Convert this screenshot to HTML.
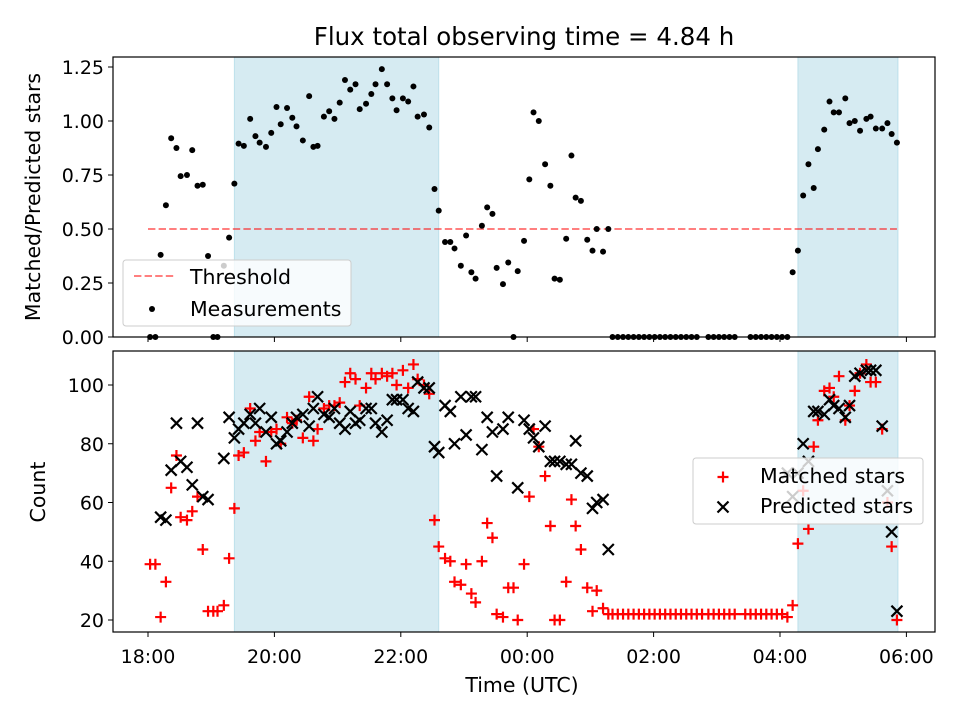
<!DOCTYPE html>
<html><head><meta charset="utf-8"><style>
body{margin:0;background:#fff;}
svg{font-family:"DejaVu Sans","Liberation Sans",sans-serif;}
</style></head><body>
<svg id="chart" width="960" height="720" xmlns="http://www.w3.org/2000/svg"></svg>
<script>
// ---- data ----
const spanStarts = [82, 617];   // minutes since 18:00
const spanEnds = [276, 712];
const threshold = 0.5;
const thresholdRange = [0, 711];
const ratioTimes = [2,7,12,17,22,27,31,37,42,47,52,57,62,66,72,77,82,86,91,97,102,106,112,117,122,126,132,137,141,147,153,157,161,167,172,177,182,187,192,197,201,207,212,216,222,227,232,236,242,247,252,256,262,267,272,276,282,287,291,297,302,307,311,317,322,327,331,337,342,347,351,357,362,366,371,377,382,386,391,397,402,406,411,417,422,426,432,437,441,446,451,456,461,466,471,476,481,486,491,496,501,506,511,516,521,532,537,542,547,552,557,572,577,582,587,592,597,602,607,612,617,622,627,632,636,642,647,651,656,662,666,671,676,682,686,691,697,702,706,711];
const ratioValues = [0,0,.38,.61,.92,.875,.745,.75,.865,.70,.705,.375,0,0,.33,.46,.71,.895,.885,1.01,.93,.90,.88,.945,1.065,.985,1.06,1.015,.975,.91,1.115,.88,.885,1.02,1.045,1.01,1.085,1.19,1.145,1.17,1.055,1.08,1.125,1.17,1.24,1.17,1.105,1.05,1.105,1.09,1.16,1.02,1.03,.97,.685,.585,.44,.44,.41,.33,.47,.30,.27,.515,.60,.57,.32,.245,.345,0,.305,.445,.73,1.04,1.00,.80,.70,.27,.265,.455,.84,.645,.63,.45,.40,.50,.395,.50,0,0,0,0,0,0,0,0,0,0,0,0,0,0,0,0,0,0,0,0,0,0,0,0,0,0,0,0,0,0,0,.30,.40,.655,.80,.69,.87,.96,1.09,1.04,1.04,1.105,.99,1.0,.955,1.01,1.02,.965,.965,.99,.94,.90,.87];
const matchedTimes = [2,7,12,17,22,27,31,37,42,47,52,57,62,66,72,77,82,86,91,97,102,106,112,117,122,126,132,137,141,147,153,157,161,167,172,177,182,187,192,197,201,207,212,216,222,227,232,236,242,247,252,256,262,267,272,276,282,287,291,297,302,307,311,317,322,327,331,337,342,347,351,357,362,366,371,377,382,386,391,397,402,406,411,417,422,426,432,437,441,446,451,456,461,466,471,476,481,486,491,496,501,506,511,516,521,526,532,537,542,547,552,557,567,572,577,582,587,592,597,602,607,612,617,622,627,632,636,642,647,651,656,662,666,671,676,682,686,691,697,702,706,711];
const matchedValues = [39,39,21,33,65,76,55,54,57,62,44,23,23,23,25,41,58,76,77,92,81,84,74,84,85,80,89,87,88,82,96,81,85,92,93,93,94,101,104,102,93,99,104,102,104,103,104,100,105,99,107,102,100,97,54,45,41,40,33,32,39,29,26,40,53,48,22,21,31,31,20,39,62,85,79,69,52,20,20,33,61,52,44,31,23,30,24,22,22,22,22,22,22,22,22,22,22,22,22,22,22,22,22,22,22,22,22,22,22,22,22,22,22,22,22,22,22,22,22,22,21,25,46,64,51,79,88,98,99,96,103,88,93,98,104,107,101,101,85,60,45,20];
const predictedTimes = [12,17,22,27,31,37,42,47,52,57,72,77,82,86,91,97,102,106,112,117,122,126,132,137,141,147,153,157,161,167,172,177,182,187,192,197,201,207,212,216,222,227,232,236,242,247,252,256,262,267,272,276,282,287,291,297,302,307,311,317,322,327,331,337,342,351,357,362,366,371,377,382,386,391,397,402,406,411,417,422,426,432,437,607,612,617,622,627,632,636,642,647,651,656,662,666,671,676,682,686,691,697,702,706,711];
const predictedValues = [55,54,71,87,74,72,66,87,62,61,75,89,82,85,87,90,87,92,84,89,80,81,84,87,89,90,86,92,96,90,89,92,87,85,91,87,88,92,92,87,84,88,95,95,95,92,91,101,99,99,79,77,93,91,80,96,83,96,96,78,89,84,69,85,89,65,88,85,82,79,86,74,74,74,73,73,81,70,69,58,60,61,44,70,62,70,80,74,91,91,90,95,93,92,89,93,103,104,105,105,105,86,64,50,23];
const xTickMinutes = [0,120,240,360,480,600,720];
const xTickLabels = ["18:00","20:00","22:00","00:00","02:00","04:00","06:00"];
const topTicks = [0,0.25,0.5,0.75,1.0,1.25];
const topTickLabels = ["0.00","0.25","0.50","0.75","1.00","1.25"];
const botTicks = [20,40,60,80,100];

// ---- layout ----
const L=113,R=935,T1=57,B1=337,T2=351,B2=632;
const TF=19, AF=20.5, LF=20.5;
const xs = m => 148 + m/60*63.2;
const yTop = v => 337 - v*216;
const yBot = v => 620 - (v-20)*2.9375;
const svg = document.getElementById('chart');
const NS='http://www.w3.org/2000/svg';
function mk(tag, attrs, parent){const e=document.createElementNS(NS,tag);for(const k in attrs)e.setAttribute(k,attrs[k]);(parent||svg).appendChild(e);return e;}

let e;
e=mk('text',{x:524,y:45,'text-anchor':'middle','font-size':24.5});
e.textContent='Flux total observing time = 4.84 h';



function panel(T,B,name){
  const g=mk('g',{});
  
  
  for(let i=0;i<spanStarts.length;i++){
    const r=mk('rect',{x:xs(spanStarts[i]),y:T,width:xs(spanEnds[i])-xs(spanStarts[i]),height:B-T,fill:'#add8e6','fill-opacity':0.5,stroke:'#add8e6','stroke-opacity':0.7},g);
    
    
  }
  return g;
}
const gTop=panel(T1,B1,'top-panel');
const gBot=panel(T2,B2,'bottom-panel');

const th=mk('line',{x1:xs(thresholdRange[0]),x2:xs(thresholdRange[1]),y1:yTop(threshold),y2:yTop(threshold),stroke:'#ff0000','stroke-opacity':0.5,'stroke-width':2,'stroke-dasharray':'7.4,3.2'},gTop);



for(let i=0;i<ratioTimes.length;i++){
  const c=mk('circle',{cx:xs(ratioTimes[i]),cy:yTop(ratioValues[i]),r:3,fill:'#000'},gTop);
  
  
}
for(let i=0;i<matchedTimes.length;i++){
  const x=xs(matchedTimes[i]),y=yBot(matchedValues[i]);
  const p=mk('path',{d:`M${x-5.5} ${y}H${x+5.5}M${x} ${y-5.5}V${y+5.5}`,stroke:'#ff0000','stroke-width':2.2,fill:'none'},gBot);
  
  
}
for(let i=0;i<predictedTimes.length;i++){
  const x=xs(predictedTimes[i]),y=yBot(predictedValues[i]);
  const p=mk('path',{d:`M${x-5.5} ${y-5.5}L${x+5.5} ${y+5.5}M${x-5.5} ${y+5.5}L${x+5.5} ${y-5.5}`,stroke:'#000','stroke-width':2.2,fill:'none'},gBot);
  
  
}

for(const [T,B,n] of [[T1,B1,'top-axes-frame'],[T2,B2,'bottom-axes-frame']]){
  const f=mk('rect',{x:L,y:T,width:R-L,height:B-T,fill:'none',stroke:'#000','stroke-width':1.2});
  
  
  for(let i=0;i<xTickMinutes.length;i++){
    const t=mk('line',{x1:xs(xTickMinutes[i]),x2:xs(xTickMinutes[i]),y1:B,y2:B+5,stroke:'#000','stroke-width':1});
    
    
  }
}
for(let i=0;i<xTickMinutes.length;i++){
  const t=mk('text',{x:xs(xTickMinutes[i]),y:663,'text-anchor':'middle','font-size':TF});
  t.textContent=xTickLabels[i];
  
  
}
for(let i=0;i<topTicks.length;i++){
  const y=yTop(topTicks[i]);
  const l=mk('line',{x1:L-5,x2:L,y1:y,y2:y,stroke:'#000'});
  
  
  const t=mk('text',{x:L-9,y:y+7,'text-anchor':'end','font-size':TF});
  t.textContent=topTickLabels[i];
  
  
}
for(let i=0;i<botTicks.length;i++){
  const y=yBot(botTicks[i]);
  const l=mk('line',{x1:L-5,x2:L,y1:y,y2:y,stroke:'#000'});
  
  
  const t=mk('text',{x:L-9,y:y+7,'text-anchor':'end','font-size':TF});
  t.textContent=String(botTicks[i]);
  
  
}
e=mk('text',{x:0,y:0,'text-anchor':'middle','font-size':AF,transform:'translate(40,197) rotate(-90)'});e.textContent='Matched/Predicted stars';


e=mk('text',{x:0,y:0,'text-anchor':'middle','font-size':AF,transform:'translate(45,492) rotate(-90)'});e.textContent='Count';


e=mk('text',{x:522,y:692,'text-anchor':'middle','font-size':AF});e.textContent='Time (UTC)';



const lg1=mk('g',{});


mk('rect',{x:123,y:260,width:228,height:66,rx:3,fill:'#fff','fill-opacity':0.8,stroke:'#ccc'},lg1);
mk('line',{x1:134,x2:174,y1:276,y2:276,stroke:'#ff0000','stroke-opacity':0.5,'stroke-width':2,'stroke-dasharray':'7.4,3.2'},lg1);
mk('text',{x:190,y:284,'font-size':LF},lg1).textContent='Threshold';
mk('circle',{cx:152,cy:309,r:3,fill:'#000'},lg1);
mk('text',{x:190,y:316,'font-size':LF},lg1).textContent='Measurements';
const lg2=mk('g',{});


mk('rect',{x:693,y:458,width:230,height:66,rx:3,fill:'#fff','fill-opacity':0.8,stroke:'#ccc'},lg2);
mk('path',{d:'M717.5 477H728.5M723 471.5V482.5',stroke:'#ff0000','stroke-width':2.2},lg2);
mk('text',{x:760,y:483,'font-size':LF},lg2).textContent='Matched stars';
mk('path',{d:'M717.5 501.5L728.5 512.5M717.5 512.5L728.5 501.5',stroke:'#000','stroke-width':2.2},lg2);
mk('text',{x:760,y:513,'font-size':LF},lg2).textContent='Predicted stars';
</script>
</body></html>
